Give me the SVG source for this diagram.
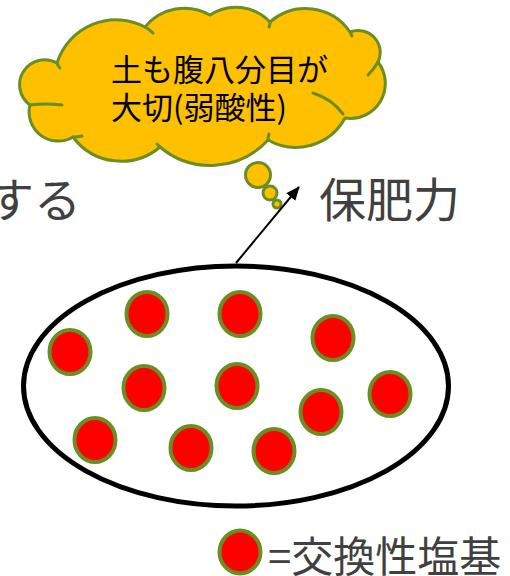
<svg xmlns="http://www.w3.org/2000/svg" width="510" height="576" viewBox="0 0 510 576">
<style>
.ion{fill:#FF0000;stroke:#6B8E23;stroke-width:4}
.cloud{fill:#FFC000;stroke:#6B8E23;stroke-width:3;stroke-linejoin:round}
.stub{fill:none;stroke:#6B8E23;stroke-width:3;stroke-linecap:round}
.big{font-family:"Noto Sans CJK JP","Noto Sans",sans-serif;fill:#404040}
.ctext{font-family:"Noto Sans CJK JP","Noto Sans",sans-serif;fill:#000;font-size:31px}
</style>
<defs>
<marker id="arr" viewBox="0 0 14 12" refX="13" refY="6" markerWidth="14" markerHeight="12" orient="auto" markerUnits="userSpaceOnUse">
<path d="M0,0 L14,6 L0,12 z" fill="#000"/>
</marker>
</defs>
<rect width="510" height="576" fill="#fff"/>

<g id="label-left">
<text class="big" x="81" y="217" font-size="47" text-anchor="end">する</text>
</g>
<g id="label-hohiryoku">
<text class="big" x="319" y="217" font-size="47">保肥力</text>
</g>

<g id="thought-cloud">
<path class="cloud" d="M57,63 A62,62 0 0 1 145,27 A51,51 0 0 1 210,15 A47,47 0 0 1 270,22 A54,54 0 0 1 350,32 A22,22 0 0 1 378,62 A35,35 0 0 1 345,118 A56,56 0 0 1 268,140 A78,78 0 0 1 160,147 A60,60 0 0 1 73,137 A29,29 0 0 1 30,105 A25,25 0 0 1 57,63 Z"/>
<path class="stub" d="M57,63 Q58,66 60,68"/>
<path class="stub" d="M145,27 Q150,30 153,33"/>
<path class="stub" d="M270,22 Q270,25 269,27"/>
<path class="stub" d="M350,32 Q351,34 352,36"/>
<path class="stub" d="M378,62 Q374,69 368,75"/>
<path class="stub" d="M313,93 Q332,99 343,114"/>
<path class="stub" d="M268,140 Q268,137 269,134"/>
<path class="stub" d="M160,147 Q159,146 157,144"/>
<path class="stub" d="M73,137 Q78,137 82,136"/>
<path class="stub" d="M30,105 Q46,103 62,105"/>
<circle cx="258" cy="175" r="12.5" fill="#FFC000" stroke="#6B8E23" stroke-width="3"/>
<circle cx="270" cy="193" r="7" fill="#FFC000" stroke="#6B8E23" stroke-width="3"/>
<circle cx="277" cy="204" r="4" fill="#FFC000" stroke="#6B8E23" stroke-width="3"/>
<text class="ctext" x="111" y="81">土も腹八分目が</text>
<text class="ctext" x="111" y="119">大切(弱酸性)</text>
</g>

<g id="connectors">
<line x1="236" y1="263" x2="299" y2="187" stroke="#000" stroke-width="2" marker-end="url(#arr)"/>
</g>

<g id="soil-particle">
<ellipse cx="236" cy="386" rx="212.5" ry="120" fill="#fff" stroke="#000" stroke-width="5"/>
<ellipse class="ion" cx="70" cy="352" rx="20.5" ry="22"/>
<ellipse class="ion" cx="147" cy="314" rx="20.5" ry="22"/>
<ellipse class="ion" cx="240" cy="314" rx="20.5" ry="22"/>
<ellipse class="ion" cx="333" cy="338" rx="20.5" ry="22"/>
<ellipse class="ion" cx="144" cy="388" rx="20.5" ry="22"/>
<ellipse class="ion" cx="237" cy="386" rx="20.5" ry="22"/>
<ellipse class="ion" cx="390" cy="394" rx="20.5" ry="22"/>
<ellipse class="ion" cx="321" cy="412" rx="20.5" ry="22"/>
<ellipse class="ion" cx="95" cy="440" rx="20.5" ry="22"/>
<ellipse class="ion" cx="191" cy="448" rx="20.5" ry="22"/>
<ellipse class="ion" cx="274" cy="451" rx="20.5" ry="22"/>
</g>

<g id="legend">
<ellipse class="ion" cx="240" cy="552" rx="20.5" ry="21.5"/>
<text class="big" x="268" y="572" font-size="42">=交換性塩基</text>
</g>
</svg>
